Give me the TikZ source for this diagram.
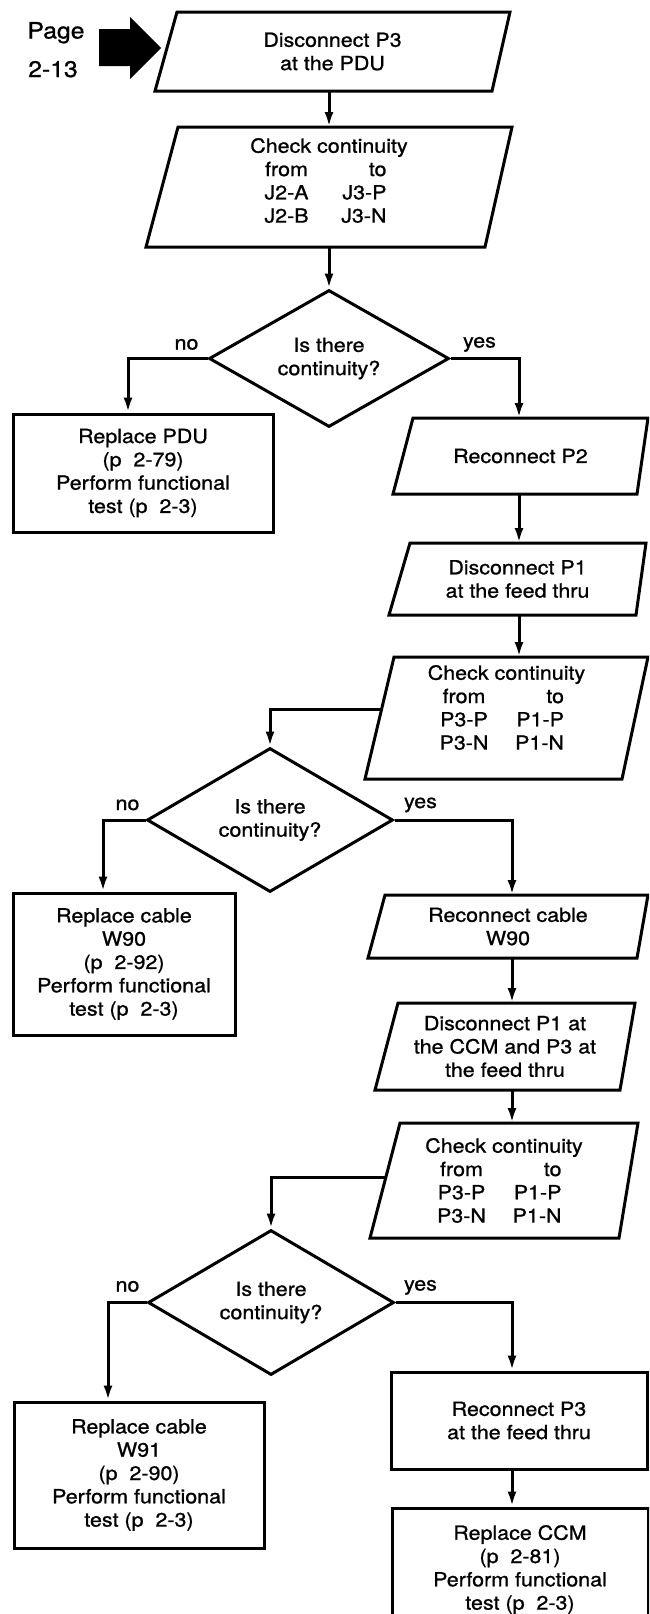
\documentclass[tikz,border=0pt]{standalone}
\usepackage{fontspec}
\setmainfont{TeX Gyre Heros}[FakeStretch=1.1,FakeBold=1]
\usetikzlibrary{arrows.meta,shapes.geometric,calc}
\newcommand\pl[2]{\makebox[135pt][l]{\makebox[50pt]{#1}\hspace{27pt}\makebox[48pt][r]{#2}}}
\newcommand\drawpara[3]{\draw[boxline] ([xshift=#2]#1.north west) -- (#1.north east) -- ([xshift=-#3]#1.south east) -- (#1.south west) -- cycle;}
\begin{document}
\begin{tikzpicture}[x=1pt,y=-1pt,line width=3pt,
  every node/.style={font=\fontsize{19.5}{23.3}\selectfont, inner sep=0pt},
  box/.style={draw, rectangle, align=center},
  ptext/.style={rectangle, align=center, outer sep=0pt},
  boxline/.style={line join=miter},
  dia/.style={draw, diamond, aspect=1.7, align=center},
  arr/.style={-{Latex[length=15pt,width=9pt]}},
  lbl/.style={anchor=base},
  pagefont/.style={font=\fontsize{22.5}{26}\selectfont}]
\useasboundingbox (0,0) rectangle (649,1614);
\clip (0,0) rectangle (649,1614);
% column coordinates
\coordinate (colA) at (329,0);
\coordinate (colB) at (519,0);
\coordinate (colC) at (512,0);
% page reference
\node[lbl,pagefont] (page) at (56,38.5) {Page};
\node[lbl,pagefont] (pnum) at (53,77) {2-13};
\fill (99,29) -- (130,29) -- (130,17) -- (161,48) -- (130,79) -- (130,66) -- (99,66) -- cycle;
% top column
\node[ptext, minimum width=355, minimum height=79] (b1) at (332.5,51.5) {Disconnect P3\\at the PDU};
\drawpara{b1}{22}{18}
\node[ptext, minimum width=366, minimum height=120] (b2) at (329,187) {\raisebox{4pt}[\height][\depth]{\begin{tabular}{@{}c@{}}Check continuity\\\pl{from}{to}\\\pl{J2-A}{J3-P}\\\pl{J2-B}{J3-N}\end{tabular}}};
\drawpara{b2}{32}{27}
\node[dia, minimum width=240, minimum height=137] (d1) at (329,358.5) {Is there\\continuity?};
\node[box, minimum width=260, minimum height=118] (r1) at (143,473) {Replace PDU\\(p\ \ 2-79)\\Perform functional\\test (p\ \ 2-3)};
\node[ptext, minimum width=255, minimum height=76] (b3) at (520.5,456) {Reconnect P2};
\drawpara{b3}{20}{11}
\node[ptext, minimum width=257, minimum height=72] (b4) at (517.5,579) {Disconnect P1\\at the feed thru};
\drawpara{b4}{21}{10}
\node[ptext, minimum width=283, minimum height=122] (b5) at (506.5,718) {\raisebox{8pt}[\height][\depth]{\begin{tabular}{@{}c@{}}Check continuity\\\pl{from}{to}\\\pl{P3-P}{P1-P}\\\pl{P3-N}{P1-N}\end{tabular}}};
\drawpara{b5}{29}{26}
\node[dia, minimum width=246, minimum height=144] (d2) at (270,820) {Is there\\continuity?};
\node[box, minimum width=222, minimum height=142] (r2) at (124,964) {Replace cable\\W90\\(p\ \ 2-92)\\Perform functional\\test (p\ \ 2-3)};
\node[ptext, minimum width=280, minimum height=63] (b6) at (508,926.5) {Reconnect cable\\W90};
\drawpara{b6}{17}{11}
\node[ptext, minimum width=260, minimum height=87] (b7) at (505,1046.5) {Disconnect P1 at\\the CCM and P3 at\\the feed thru};
\drawpara{b7}{23}{15}
\node[ptext, minimum width=268, minimum height=115] (b8) at (504,1180.5) {Check continuity\\\pl{from}{to}\\\pl{P3-P}{P1-P}\\\pl{P3-N}{P1-N}};
\drawpara{b8}{30}{19}
\node[dia, minimum width=246, minimum height=145] (d3) at (271,1302.5) {Is there\\continuity?};
\node[box, minimum width=250, minimum height=146] (r3) at (139,1475) {Replace cable\\W91\\(p\ \ 2-90)\\Perform functional\\test (p\ \ 2-3)};
\node[box, minimum width=256, minimum height=97] (r4) at (519,1420.5) {Reconnect P3\\at the feed thru};
\node[box, minimum width=256, minimum height=123] (r5) at (520,1569.5) {Replace CCM\\(p\ \ 2-81)\\Perform functional\\test (p\ \ 2-3)};
% side exits
\coordinate (b5l) at ($([xshift=29]b5.north west)!0.434!(b5.south west)$);
\coordinate (b8l) at ($([xshift=30]b8.north west)!0.47!(b8.south west)$);
% connectors
\draw[arr] (b1.south -| colA) -- (b2.north -| colA);
\draw[arr] (b2.south -| colA) -- (d1.north);
\draw[arr] (d1.west) -| ([xshift=-15]r1.north);
\draw[arr] (d1.east) -| (b3.north -| colB);
\draw[arr] (b3.south -| colB) -- (b4.north -| colB);
\draw[arr] (b4.south -| colB) -- (b5.north -| colB);
\draw[arr] (b5l) -| (d2.north);
\draw[arr] (d2.west) -| ([xshift=-21]r2.north);
\draw[arr] (d2.east) -| (b6.north -| colC);
\draw[arr] (b6.south -| colC) -- (b7.north -| colC);
\draw[arr] (b7.south -| colC) -- (b8.north -| colC);
\draw[arr] (b8l) -| (d3.north);
\draw[arr] (d3.west) -| ([xshift=-31]r3.north);
\draw[arr] (d3.east) -| (r4.north -| colC);
\draw[arr] (r4.south -| colC) -- (r5.north -| colC);
% branch labels
\node[lbl] (no1) at ([shift={(-21,-9)}]d1.west) {no};
\node[lbl] (yes1) at ([shift={(29,-11)}]d1.east) {yes};
\node[lbl] (no2) at ([shift={(-18,-10)}]d2.west) {no};
\node[lbl] (yes2) at ([shift={(26,-12)}]d2.east) {yes};
\node[lbl] (no3) at ([shift={(-19,-11)}]d3.west) {no};
\node[lbl] (yes3) at ([shift={(25,-12)}]d3.east) {yes};
\end{tikzpicture}
\end{document}
